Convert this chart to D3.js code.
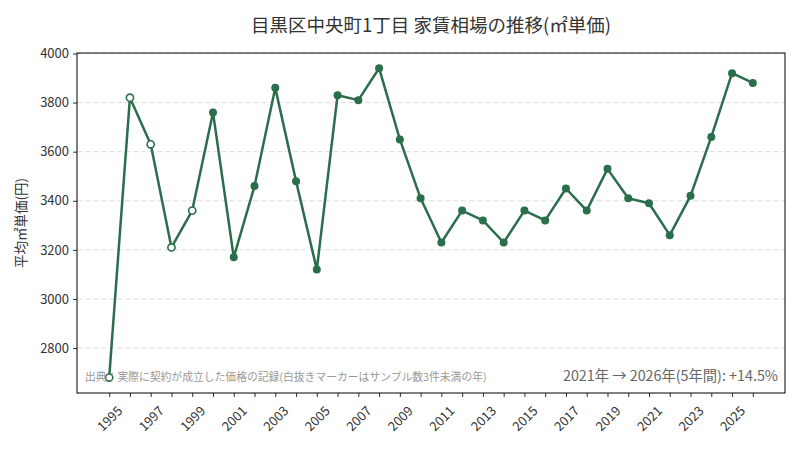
<!DOCTYPE html>
<html>
<head>
<meta charset="utf-8">
<script src="https://cdn.jsdelivr.net/npm/d3@7"></script>
<style>
  body { margin: 0; background: #fff; }
  text { font-family: "Noto Sans CJK JP", "Noto Sans", sans-serif; }
</style>
</head>
<body>
<div id="chart"></div>
<script>
// Data
const years = d3.range(1995, 2027);
const prices = [2680, 3820, 3630, 3210, 3360, 3760, 3170, 3460, 3860, 3480,
                3120, 3830, 3810, 3940, 3650, 3410, 3230, 3360, 3320, 3230,
                3360, 3320, 3450, 3360, 3530, 3410, 3390, 3260, 3420, 3660,
                3920, 3880];
// years with fewer than 3 samples (hollow markers)
const lowSampleYears = [1995, 1996, 1997, 1998, 1999];
const yTicks = [2800, 3000, 3200, 3400, 3600, 3800, 4000];
const labelYears = d3.range(1995, 2026, 2);

const width = 800;
const height = 450;
const margin = { top: 53, right: 15, bottom: 57, left: 77 };
const color = "#2b6e4c";

const data = years.map((y, i) => ({ year: y, value: prices[i], low: lowSampleYears.includes(y) }));

const svg = d3.select("#chart").append("svg")
    .attr("width", width)
    .attr("height", height);

const x = d3.scaleLinear()
    .domain([1993.45, 2027.55])
    .range([margin.left, width - margin.right]);

const y = d3.scaleLinear()
    .domain([2617, 4002])
    .range([height - margin.bottom, margin.top]);

// Grid lines
svg.append("g")
    .selectAll("line")
    .data(yTicks)
    .enter()
    .append("line")
    .attr("x1", margin.left)
    .attr("x2", width - margin.right)
    .attr("y1", d => y(d))
    .attr("y2", d => y(d))
    .attr("stroke", "#dcdcdc")
    .attr("stroke-width", 1)
    .attr("stroke-dasharray", "5,3");

// Y axis
const yAxis = svg.append("g")
    .attr("transform", `translate(${margin.left},0)`)
    .call(d3.axisLeft(y).tickValues(yTicks).tickSize(4).tickPadding(4).tickFormat(d3.format("d")));
yAxis.select(".domain").remove();
yAxis.selectAll("text").style("font-size", "13px").attr("fill", "#333");
yAxis.selectAll("line").attr("stroke", "#333");

// X axis: tick every year, label every other year
const xAxis = svg.append("g")
    .attr("transform", `translate(0,${height - margin.bottom})`)
    .call(d3.axisBottom(x).tickValues(years).tickSize(4).tickFormat(""));
xAxis.select(".domain").remove();
xAxis.selectAll("line").attr("stroke", "#333");

svg.append("g")
    .selectAll("text")
    .data(labelYears)
    .enter()
    .append("text")
    .attr("transform", d => `translate(${x(d)},${height - margin.bottom + 25}) rotate(-45)`)
    .attr("text-anchor", "middle")
    .attr("dominant-baseline", "central")
    .style("font-size", "13px")
    .attr("fill", "#333")
    .text(d => d);

// Frame
svg.append("rect")
    .attr("x", margin.left)
    .attr("y", margin.top)
    .attr("width", width - margin.left - margin.right)
    .attr("height", height - margin.top - margin.bottom)
    .attr("fill", "none")
    .attr("stroke", "#000")
    .attr("stroke-width", 1);

// Line
const line = d3.line()
    .x(d => x(d.year))
    .y(d => y(d.value));

svg.append("path")
    .datum(data)
    .attr("d", line)
    .attr("fill", "none")
    .attr("stroke", color)
    .attr("stroke-width", 2.5)
    .attr("stroke-linejoin", "round");

// Markers
svg.append("g")
    .selectAll("circle")
    .data(data)
    .enter()
    .append("circle")
    .attr("cx", d => x(d.year))
    .attr("cy", d => y(d.value))
    .attr("r", d => d.low ? 3.6 : 4)
    .attr("fill", d => d.low ? "#fff" : color)
    .attr("stroke", color)
    .attr("stroke-width", d => d.low ? 1.6 : 0);

// Title
svg.append("text")
    .attr("x", (margin.left + width - margin.right) / 2)
    .attr("y", 32)
    .attr("text-anchor", "middle")
    .style("font-size", "18.5px")
    .attr("fill", "#333")
    .text("目黒区中央町1丁目 家賃相場の推移(㎡単価)");

// Y label
svg.append("text")
    .attr("transform", `translate(26,${(margin.top + height - margin.bottom) / 2}) rotate(-90)`)
    .attr("text-anchor", "middle")
    .style("font-size", "13.5px")
    .attr("fill", "#333")
    .text("平均㎡単価(円)");

// Source note
svg.append("text")
    .attr("x", 85)
    .attr("y", 381)
    .style("font-size", "10.8px")
    .attr("fill", "#999")
    .text("出典：実際に契約が成立した価格の記録(白抜きマーカーはサンプル数3件未満の年)");

// Change note
svg.append("text")
    .attr("x", 778)
    .attr("y", 381)
    .attr("text-anchor", "end")
    .style("font-size", "14.3px")
    .attr("fill", "#666")
    .text("2021年 → 2026年(5年間): +14.5%");
</script>
</body>
</html>
